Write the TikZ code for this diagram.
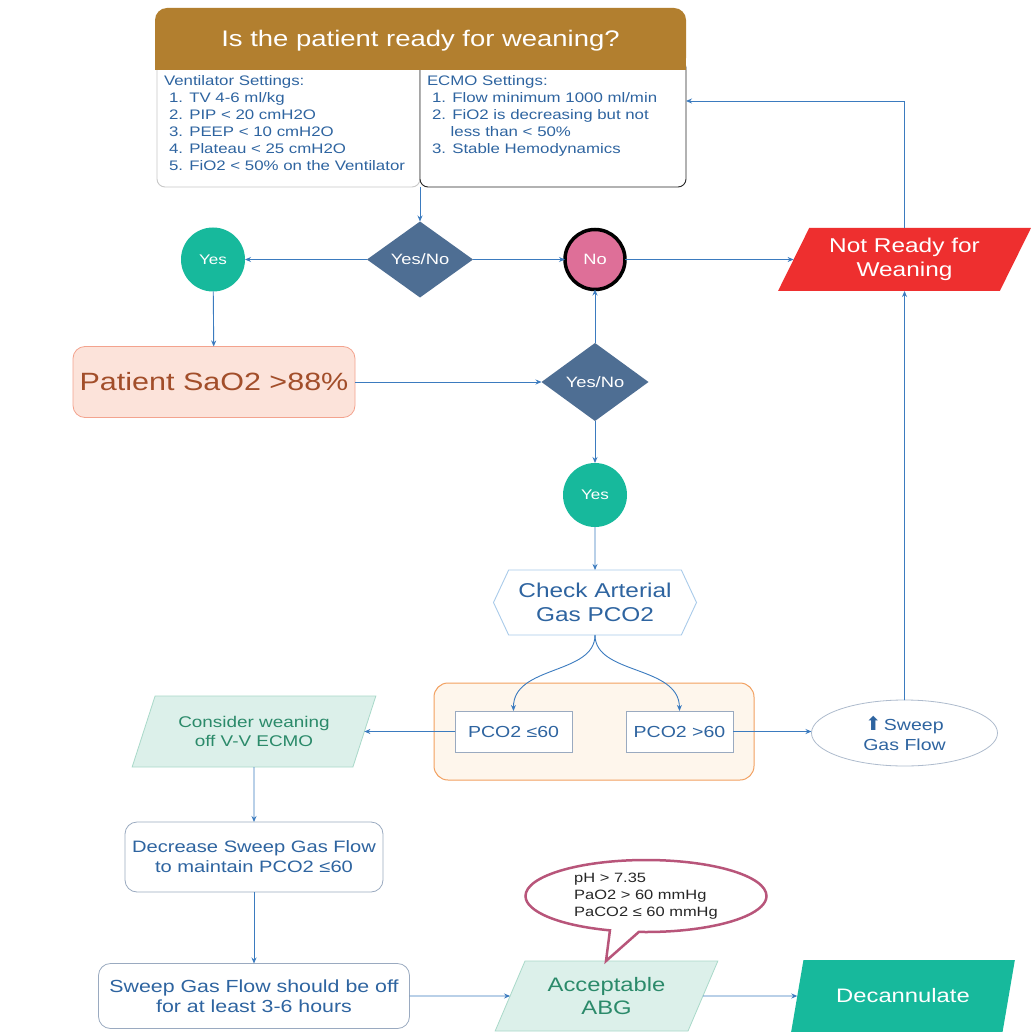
\documentclass[tikz,border=0pt]{standalone}
\usepackage{fontspec}
\setmainfont[FakeStretch=1.22]{Liberation Sans}
\newfontfamily\symfont{DejaVu Sans}
\usetikzlibrary{shapes.geometric,shapes.symbols,shapes.callouts,arrows.meta}
\newcommand{\myfs}[2]{\fontsize{#1}{#2}\selectfont}
\definecolor{hdrcol}{HTML}{B27F2F}
\definecolor{txtblue}{HTML}{2E64A0}
\definecolor{linecol}{HTML}{3B7BBF}
\definecolor{diacol}{HTML}{4E6E93}
\definecolor{tealcol}{HTML}{17B99C}
\definecolor{pinkcol}{HTML}{DE6F98}
\definecolor{redcol}{HTML}{EE2F2F}
\definecolor{peachfill}{HTML}{FCE3DA}
\definecolor{peachbord}{HTML}{F3A38E}
\definecolor{peachtxt}{HTML}{A24E2A}
\definecolor{hexbord}{HTML}{A9CBEA}
\definecolor{orfill}{HTML}{FEF6EC}
\definecolor{orbord}{HTML}{F2A060}
\definecolor{boxbord}{HTML}{9AAAC0}
\definecolor{ltfill}{HTML}{DCF0EA}
\definecolor{ltbord}{HTML}{A9D9C9}
\definecolor{ltxt}{HTML}{2B8A6A}
\definecolor{bubbord}{HTML}{B8557A}
\definecolor{ventbord}{HTML}{C8C8C8}
\begin{document}
\begin{tikzpicture}[x=1pt,y=-1pt,
  every node/.style={inner sep=0pt, outer sep=0pt},
  arr/.style={draw=linecol, line width=0.9pt, -{Stealth[length=6pt,width=5pt]}},
  dia/.style={diamond, fill=diacol, text=white, font=\myfs{15}{18}},
  circ/.style={circle, fill=tealcol, text=white, minimum size=64pt, font=\myfs{14}{16}},
  para/.style={trapezium, trapezium left angle=60, trapezium right angle=120, trapezium stretches=true, align=center},
  rbox/.style={rectangle, rounded corners=12pt, draw=boxbord, line width=0.8pt, fill=white, text=txtblue, align=center},
  sbox/.style={rectangle, draw=boxbord, line width=0.9pt, fill=white, text=txtblue, font=\myfs{16}{20}}
]
\useasboundingbox (0,0) rectangle (1033,1032);
\clip (0,0) rectangle (1033,1032);
\fill[white] (0,0) rectangle (1033,1032);

% top boxes
\node[rectangle, rounded corners=8pt, draw=ventbord, line width=0.9pt, fill=white, minimum width=263pt, minimum height=127pt] (vent) at (288.5,123.5) {};
\node[rectangle, rounded corners=8pt, draw=black!85, line width=0.9pt, fill=white, minimum width=266pt, minimum height=127pt] (ecmo) at (553,123.5) {};
\fill[hdrcol] (155,40) rectangle (686,70);
\node[rectangle, rounded corners=12pt, fill=hdrcol, minimum width=531pt, minimum height=62pt, text=white, font=\myfs{22.5}{26}, text depth=2pt] (hdr) at (420.5,39) {Is the patient ready for weaning?};
\node[anchor=north west, align=left, text=txtblue, font=\myfs{13.8}{17}] (venttxt) at (164,76) {Ventilator Settings:\\\hspace*{5pt}1. TV 4-6 ml/kg\\\hspace*{5pt}2. PIP < 20 cmH2O\\\hspace*{5pt}3. PEEP < 10 cmH2O\\\hspace*{5pt}4. Plateau < 25 cmH2O\\\hspace*{5pt}5. FiO2 < 50\% on the Ventilator};
\node[anchor=north west, align=left, text=txtblue, font=\myfs{13.8}{17}] (ecmotxt) at (427,76) {ECMO Settings:\\\hspace*{5pt}1. Flow minimum 1000 ml/min\\\hspace*{5pt}2. FiO2 is decreasing but not\\\hspace*{23.7pt}less than < 50\%\\\hspace*{5pt}3. Stable Hemodynamics};

% row 1
\node[dia, minimum width=106pt, minimum height=76pt] (d1) at (420,259.5) {Yes/No};
\node[circ] (yes1) at (213,259.5) {Yes};
\node[circle, fill=pinkcol, draw=black, line width=3.5pt, minimum size=60pt, text=white, font=\myfs{15}{18}] (no) at (595,259.5) {No};
\node[para, fill=redcol, text=white, minimum width=253pt, minimum height=63pt, font=\myfs{20}{24}] (nr) at (904.5,259.5) {Not Ready for\\Weaning};
\coordinate (ecmoin) at (686,101);

% row 2
\node[rectangle, rounded corners=12pt, fill=peachfill, draw=peachbord, line width=0.8pt, minimum width=282pt, minimum height=71pt, text=peachtxt, font=\myfs{25}{28}] (pat) at (214,382) {Patient SaO2 >88\%};
\node[dia, minimum width=107pt, minimum height=78pt] (d2) at (595,382) {Yes/No};
\node[circ] (yes2) at (595,495) {Yes};

% check
\node[signal, signal to=east and west, signal pointer angle=130, draw=hexbord, line width=0.9pt, fill=white, minimum width=203pt, minimum height=65pt, text=txtblue, align=center, font=\myfs{20}{24}] (hex) at (595,602.5) {Check Arterial\\Gas PCO2};

\node[rectangle, rounded corners=14pt, fill=orfill, draw=orbord, line width=1pt, minimum width=320pt, minimum height=97pt] (cont) at (594,731.5) {};
\node[sbox, minimum width=117pt, minimum height=41pt] (b1) at (513.5,731.5) {PCO2 ≤60};
\node[sbox, minimum width=107pt, minimum height=41pt] (b2) at (679.5,731.5) {PCO2 >60};

\node[para, fill=ltfill, draw=ltbord, line width=0.8pt, minimum width=244pt, minimum height=71pt, text=ltxt, font=\myfs{15.5}{19}] (cons) at (254,731.5) {Consider weaning\\off V-V ECMO};
\node[ellipse, draw=boxbord!80, line width=0.8pt, fill=white, minimum width=186pt, minimum height=66pt, text=txtblue, align=center, font=\myfs{16}{20}] (sw) at (904.5,733) {{\symfont\myfs{19}{20}⬆}\,Sweep\\Gas Flow};

\node[rbox, minimum width=258pt, minimum height=70pt, font=\myfs{16.5}{20}] (dec) at (254,857) {Decrease Sweep Gas Flow\\to maintain PCO2 ≤60};
\node[rbox, minimum width=311pt, minimum height=65pt, font=\myfs{17.5}{20}] (off) at (254,996) {Sweep Gas Flow should be off\\for at least 3-6 hours};

\node[para, fill=ltfill, draw=ltbord, line width=0.8pt, minimum width=223pt, minimum height=70pt, text=ltxt, font=\myfs{19.5}{23}] (abg) at (606.5,996) {Acceptable\\ABG};
\node[para, fill=tealcol, minimum width=224pt, minimum height=72pt, text=white, font=\myfs{19.5}{23}] (decan) at (903,996) {Decannulate};
\coordinate (bubtip) at (606,961);
\node[ellipse callout, callout absolute pointer=(bubtip), callout pointer arc=14, draw=bubbord, line width=2.5pt, fill=white, minimum width=241pt, minimum height=72pt, align=left, text=black!85, font=\myfs{13.5}{17}] (bub) at (646,896) {pH > 7.35\\PaO2 > 60 mmHg\\PaCO2 ≤ 60 mmHg};

% connectors
\draw[arr] (ecmo.south west) -- (d1.north);
\draw[arr] (d1.west) -- (yes1.east);
\draw[arr] (d1.east) -- (no.west);
\draw[arr] (no) -- (nr);
\draw[arr] (nr.north) |- (ecmoin);
\draw[arr] (yes1) -- (pat);
\draw[arr] (pat) -- (d2);
\draw[arr] (d2) -- (no);
\draw[arr] (d2) -- (yes2);
\draw[arr] (yes2) -- (hex);
\draw[arr] (hex.south) .. controls (595,675) and (513,665) .. (b1.north);
\draw[arr] (hex.south) .. controls (595,675) and (679,665) .. (b2.north);
\draw[arr] (b1) -- (cons);
\draw[arr] (b2.east) -- (b2.east -| sw.west);
\draw[arr] (sw) -- (nr);
\draw[arr] (cons) -- (dec);
\draw[arr] (dec) -- (off);
\draw[arr] (off) -- (abg);
\draw[arr] (abg) -- (decan);
\end{tikzpicture}
\end{document}
